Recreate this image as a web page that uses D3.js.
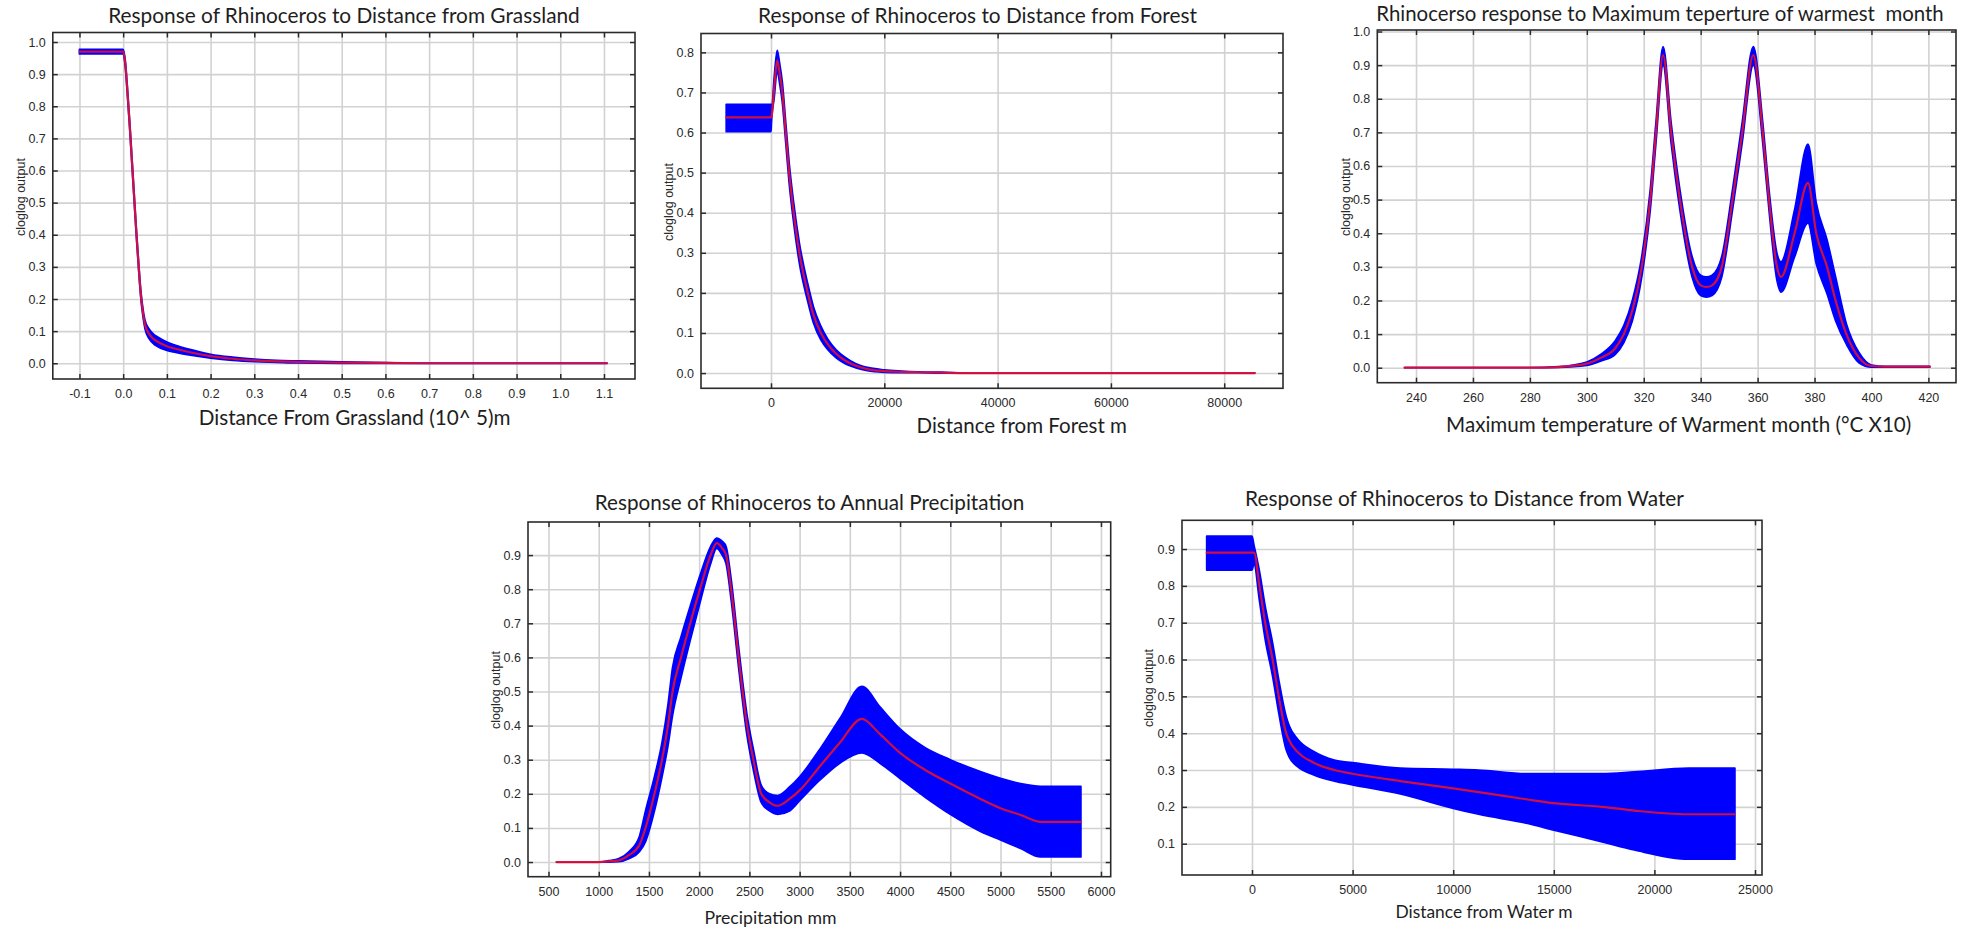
<!DOCTYPE html>
<html>
<head>
<meta charset="utf-8">
<script src="https://cdn.jsdelivr.net/npm/d3@7"></script>
<style>
  html, body { margin: 0; padding: 0; background: #ffffff; }
  svg { display: block; }
</style>
</head>
<body>
<svg id="chart" width="1966" height="929"></svg>
<script>
// ---------------- DATA ----------------
// Panel 1: Distance from Grassland (10^5 m)
const grassX = [-0.1, 0.0, 0.005, 0.01, 0.015, 0.02, 0.025, 0.03, 0.035, 0.04, 0.045, 0.05, 0.06, 0.07, 0.08, 0.1, 0.12, 0.15, 0.2, 0.25, 0.3, 0.35, 0.4, 0.5, 0.6, 0.7, 0.8, 1.0, 1.107];
const grassMean = [0.97, 0.97, 0.93, 0.84, 0.74, 0.63, 0.52, 0.41, 0.31, 0.22, 0.16, 0.12, 0.09, 0.075, 0.066, 0.053, 0.045, 0.035, 0.022, 0.014, 0.009, 0.006, 0.004, 0.002, 0.001, 0.0, 0.0, 0.0, 0.0];
const grassUpper = [0.977, 0.977, 0.94, 0.852, 0.752, 0.642, 0.532, 0.422, 0.322, 0.232, 0.172, 0.133, 0.105, 0.09, 0.081, 0.066, 0.056, 0.044, 0.028, 0.019, 0.013, 0.009, 0.007, 0.004, 0.002, 0.0, 0.0, 0.0, 0.0];
const grassLower = [0.963, 0.963, 0.92, 0.828, 0.728, 0.618, 0.508, 0.398, 0.298, 0.208, 0.148, 0.107, 0.075, 0.06, 0.051, 0.04, 0.034, 0.026, 0.016, 0.009, 0.005, 0.003, 0.001, 0.0, 0.0, 0.0, 0.0, 0.0, 0.0];
const grassXTicks = [-0.1, 0.0, 0.1, 0.2, 0.3, 0.4, 0.5, 0.6, 0.7, 0.8, 0.9, 1.0, 1.1];
const grassYTicks = [0.0, 0.1, 0.2, 0.3, 0.4, 0.5, 0.6, 0.7, 0.8, 0.9, 1.0];

// Panel 2: Distance from Forest (m)
const forestX = [-7900, 0, 80, 550, 1100, 1500, 2000, 2600, 3200, 4000, 5000, 6500, 7500, 8800, 10000, 11500, 13000, 15000, 17000, 20000, 23000, 26000, 30000, 35000, 50000, 70000, 85400];
const forestMean = [0.638, 0.638, 0.639, 0.71, 0.78, 0.75, 0.70, 0.60, 0.50, 0.40, 0.30, 0.20, 0.145, 0.10, 0.072, 0.048, 0.032, 0.018, 0.01, 0.005, 0.003, 0.002, 0.001, 0.0, 0.0, 0.0, 0.0];
const forestUpper = [0.670, 0.670, 0.652, 0.735, 0.805, 0.775, 0.725, 0.625, 0.525, 0.425, 0.325, 0.222, 0.165, 0.117, 0.085, 0.058, 0.04, 0.023, 0.014, 0.008, 0.005, 0.003, 0.002, 0.0, 0.0, 0.0, 0.0];
const forestLower = [0.602, 0.602, 0.626, 0.685, 0.755, 0.725, 0.675, 0.575, 0.475, 0.375, 0.275, 0.178, 0.125, 0.083, 0.059, 0.038, 0.024, 0.013, 0.006, 0.002, 0.001, 0.001, 0.0, 0.0, 0.0, 0.0, 0.0];
const forestXTicks = [0, 20000, 40000, 60000, 80000];
const forestYTicks = [0.0, 0.1, 0.2, 0.3, 0.4, 0.5, 0.6, 0.7, 0.8];

// Panel 3: Maximum temperature of warmest month (°C x10)
const tempX = [236, 260, 280, 290, 300, 305, 310, 313, 316, 319.3, 322.3, 324.3, 326.8, 329.6, 332.7, 337, 340, 342, 344, 347.4, 351.2, 354.6, 358.5, 361.8, 364, 366.8, 368.2, 373, 377.7, 380.6, 384.4, 387.4, 391.2, 395.6, 400, 405, 420.5];
const tempMean = [0, 0, 0, 0.002, 0.012, 0.03, 0.058, 0.1, 0.17, 0.3, 0.5, 0.7, 0.93, 0.7, 0.5, 0.3, 0.245, 0.24, 0.245, 0.3, 0.5, 0.7, 0.93, 0.7, 0.5, 0.3, 0.27, 0.4, 0.55, 0.4, 0.3, 0.2, 0.1, 0.03, 0.005, 0.003, 0.003];
const tempUpper = [0, 0, 0, 0.003, 0.017, 0.04, 0.08, 0.125, 0.2, 0.33, 0.53, 0.73, 0.955, 0.73, 0.53, 0.33, 0.275, 0.27, 0.275, 0.33, 0.53, 0.73, 0.955, 0.73, 0.53, 0.34, 0.315, 0.47, 0.665, 0.49, 0.38, 0.27, 0.13, 0.045, 0.008, 0.004, 0.004];
const tempLower = [0, 0, 0, 0.001, 0.007, 0.02, 0.04, 0.075, 0.14, 0.27, 0.47, 0.67, 0.9, 0.67, 0.47, 0.27, 0.215, 0.21, 0.215, 0.27, 0.47, 0.67, 0.9, 0.67, 0.47, 0.26, 0.225, 0.33, 0.43, 0.31, 0.22, 0.14, 0.07, 0.015, 0.002, 0.002, 0.002];
const tempXTicks = [240, 260, 280, 300, 320, 340, 360, 380, 400, 420];
const tempYTicks = [0.0, 0.1, 0.2, 0.3, 0.4, 0.5, 0.6, 0.7, 0.8, 0.9, 1.0];

// Panel 4: Annual precipitation (mm)
const precX = [580, 800, 1000, 1100, 1200, 1300, 1405, 1466, 1555, 1630, 1689, 1735, 1819, 1911, 2008, 2114, 2175, 2230, 2268, 2318, 2393, 2477, 2540, 2618, 2700, 2780, 2900, 3000, 3200, 3400, 3620, 3800, 4000, 4250, 4500, 4800, 5000, 5200, 5400, 5800];
const precMean = [0, 0, 0, 0.002, 0.005, 0.02, 0.05, 0.1, 0.2, 0.3, 0.4, 0.5, 0.6, 0.7, 0.8, 0.9, 0.935, 0.92, 0.9, 0.8, 0.6, 0.4, 0.3, 0.2, 0.175, 0.165, 0.185, 0.21, 0.28, 0.35, 0.42, 0.375, 0.32, 0.27, 0.23, 0.185, 0.158, 0.138, 0.118, 0.118];
const precUpper = [0, 0, 0, 0.004, 0.01, 0.03, 0.075, 0.15, 0.25, 0.35, 0.46, 0.57, 0.66, 0.75, 0.84, 0.925, 0.95, 0.94, 0.925, 0.83, 0.63, 0.43, 0.33, 0.225, 0.2, 0.195, 0.22, 0.25, 0.33, 0.42, 0.515, 0.455, 0.39, 0.335, 0.30, 0.265, 0.245, 0.23, 0.222, 0.222];
const precLower = [0, 0, 0, 0.0, 0.001, 0.01, 0.03, 0.06, 0.15, 0.25, 0.34, 0.43, 0.54, 0.65, 0.76, 0.875, 0.92, 0.9, 0.875, 0.77, 0.57, 0.37, 0.27, 0.175, 0.15, 0.14, 0.15, 0.18, 0.24, 0.29, 0.32, 0.29, 0.245, 0.19, 0.14, 0.09, 0.065, 0.04, 0.015, 0.015];
const precXTicks = [500, 1000, 1500, 2000, 2500, 3000, 3500, 4000, 4500, 5000, 5500, 6000];
const precYTicks = [0.0, 0.1, 0.2, 0.3, 0.4, 0.5, 0.6, 0.7, 0.8, 0.9];

// Panel 5: Distance from Water (m)
const waterX = [-2250, 0, 100, 370, 655, 1023, 1330, 1700, 1850, 2250, 3070, 4090, 5000, 7370, 10000, 11260, 13700, 15000, 17400, 19000, 21700, 24000];
const waterMean = [0.89, 0.89, 0.89, 0.8, 0.7, 0.6, 0.5, 0.4, 0.38, 0.35, 0.32, 0.30, 0.29, 0.27, 0.25, 0.24, 0.22, 0.21, 0.20, 0.19, 0.18, 0.18];
const waterUpper = [0.935, 0.935, 0.91, 0.84, 0.745, 0.645, 0.545, 0.445, 0.42, 0.385, 0.35, 0.327, 0.32, 0.305, 0.302, 0.3, 0.29, 0.29, 0.29, 0.295, 0.305, 0.305];
const waterLower = [0.843, 0.843, 0.86, 0.76, 0.655, 0.555, 0.455, 0.355, 0.335, 0.31, 0.287, 0.27, 0.26, 0.235, 0.196, 0.18, 0.155, 0.137, 0.105, 0.083, 0.058, 0.058];
const waterXTicks = [0, 5000, 10000, 15000, 20000, 25000];
const waterYTicks = [0.1, 0.2, 0.3, 0.4, 0.5, 0.6, 0.7, 0.8, 0.9];

// ---------------- LAYOUT ----------------
const fmt1 = d => d.toFixed(1);
const fmtInt = d => String(d);

const panels = [
  { title: "Response of Rhinoceros to Distance from Grassland", xLabel: "Distance From Grassland (10^ 5)m",
    xs: grassX, mean: grassMean, upper: grassUpper, lower: grassLower, xTicks: grassXTicks, yTicks: grassYTicks,
    xFmt: fmt1, box: [52.8, 635, 32.5, 379], xDom: [-0.161, 1.171], yDom: [-0.049, 1.0296],
    titlePos: [344, 23, 472], xLabelPos: [354.6, 425, 312], yLabelPos: [21, 197] },
  { title: "Response of Rhinoceros to Distance from Forest", xLabel: "Distance from Forest m",
    xs: forestX, mean: forestMean, upper: forestUpper, lower: forestLower, xTicks: forestXTicks, yTicks: forestYTicks,
    xFmt: fmtInt, box: [701, 1283, 33.5, 388.3], xDom: [-12357, 90380], yDom: [-0.038, 0.847],
    titlePos: [977.5, 22.7, 439], xLabelPos: [1021.7, 433, 210.5], yLabelPos: [669, 202] },
  { title: "Rhinocerso response to Maximum teperture of warmest  month", xLabel: "Maximum temperature of Warment month (\u00B0C X10)",
    xs: tempX, mean: tempMean, upper: tempUpper, lower: tempLower, xTicks: tempXTicks, yTicks: tempYTicks,
    xFmt: fmtInt, box: [1377.3, 1956, 30, 382.7], xDom: [226.4, 429.7], yDom: [-0.0446, 1.0045],
    titlePos: [1660, 20.7, 568], xLabelPos: [1678.7, 431.7, 465.6], yLabelPos: [1346, 197] },
  { title: "Response of Rhinoceros to Annual Precipitation", xLabel: "Precipitation mm",
    xs: precX, mean: precMean, upper: precUpper, lower: precLower, xTicks: precXTicks, yTicks: precYTicks,
    xFmt: fmtInt, box: [528, 1110.7, 522, 876.7], xDom: [296, 6097], yDom: [-0.043, 0.997],
    titlePos: [809.6, 510, 430], xLabelPos: [770.5, 924, 132], yLabelPos: [496, 690] },
  { title: "Response of Rhinoceros to Distance from Water", xLabel: "Distance from Water m",
    xs: waterX, mean: waterMean, upper: waterUpper, lower: waterLower, xTicks: waterXTicks, yTicks: waterYTicks,
    xFmt: fmtInt, box: [1182, 1762, 520.3, 875], xDom: [-3479, 25348], yDom: [0.015, 0.978],
    titlePos: [1464.5, 506, 439], xLabelPos: [1484, 918.3, 177], yLabelPos: [1149, 688] }
];

const svg = d3.select("#chart");
svg.append("rect").attr("width", 1966).attr("height", 929).attr("fill", "#ffffff");
const defs = svg.append("defs");

const TITLE_FONT = "Lato, 'Open Sans', 'DejaVu Sans', sans-serif";
const TICK_FONT = "'Liberation Sans', Arial, sans-serif";

function fitText(sel, targetWidth, baseSize) {
  sel.attr("font-size", baseSize);
  const w = sel.node().getComputedTextLength();
  if (w > 0) sel.attr("font-size", baseSize * targetWidth / w);
}

panels.forEach((p, pi) => {
  const [L, R, T, B] = p.box;
  const x = d3.scaleLinear().domain(p.xDom).range([L, R]);
  const y = d3.scaleLinear().domain(p.yDom).range([B, T]);
  const g = svg.append("g");

  defs.append("clipPath").attr("id", "clip" + pi)
    .append("rect").attr("x", L).attr("y", T).attr("width", R - L).attr("height", B - T);

  // grid lines
  g.append("g").attr("transform", `translate(0,${B})`)
    .call(d3.axisBottom(x).tickValues(p.xTicks).tickSize(-(B - T)).tickFormat(""))
    .call(s => { s.select(".domain").remove(); s.selectAll("line").attr("stroke", "#d2d2d2").attr("stroke-width", 1.6); });
  g.append("g").attr("transform", `translate(${L},0)`)
    .call(d3.axisLeft(y).tickValues(p.yTicks).tickSize(-(R - L)).tickFormat(""))
    .call(s => { s.select(".domain").remove(); s.selectAll("line").attr("stroke", "#d2d2d2").attr("stroke-width", 1.6); });

  const idx = d3.range(p.xs.length);
  const area = d3.area()
    .x(i => x(p.xs[i])).y0(i => y(p.lower[i])).y1(i => y(p.upper[i]))
    .curve(d3.curveMonotoneX);
  const line = d3.line()
    .x(i => x(p.xs[i])).y(i => y(p.mean[i]))
    .curve(d3.curveMonotoneX);

  const plot = g.append("g").attr("clip-path", `url(#clip${pi})`);
  plot.append("path").datum(idx).attr("d", area)
    .attr("fill", "#0000ff").attr("stroke", "#0000ff").attr("stroke-width", 1.8).attr("stroke-linejoin", "round");
  plot.append("path").datum(idx).attr("d", line)
    .attr("fill", "none").attr("stroke", "#e6102e").attr("stroke-opacity", 0.9)
    .attr("stroke-width", 2.2).attr("stroke-linejoin", "round").attr("stroke-linecap", "round");

  // frame
  g.append("rect").attr("x", L).attr("y", T).attr("width", R - L).attr("height", B - T)
    .attr("fill", "none").attr("stroke", "#2b2b2b").attr("stroke-width", 1.6);

  const styleAxis = s => {
    s.select(".domain").remove();
    s.selectAll(".tick line").attr("stroke", "#2b2b2b").attr("stroke-width", 1.5);
    s.selectAll(".tick text").attr("fill", "#2a2a2a").attr("font-family", TICK_FONT).attr("font-size", 12.5);
  };

  g.append("g").attr("transform", `translate(0,${B})`)
    .call(d3.axisBottom(x).tickValues(p.xTicks).tickSize(-5).tickPadding(10).tickFormat(p.xFmt))
    .call(styleAxis);
  g.append("g").attr("transform", `translate(0,${T})`)
    .call(d3.axisTop(x).tickValues(p.xTicks).tickSize(-5).tickFormat(""))
    .call(styleAxis);
  g.append("g").attr("transform", `translate(${L},0)`)
    .call(d3.axisLeft(y).tickValues(p.yTicks).tickSize(-5).tickPadding(7).tickFormat(fmt1))
    .call(styleAxis);
  g.append("g").attr("transform", `translate(${R},0)`)
    .call(d3.axisRight(y).tickValues(p.yTicks).tickSize(-5).tickFormat(""))
    .call(styleAxis);

  // title
  const t = g.append("text").text(p.title)
    .attr("x", p.titlePos[0]).attr("y", p.titlePos[1])
    .attr("text-anchor", "middle").attr("font-family", TITLE_FONT)
    .attr("fill", "#1e1e1e").style("white-space", "pre");
  fitText(t, p.titlePos[2], 20);

  // x label
  const xl = g.append("text").text(p.xLabel)
    .attr("x", p.xLabelPos[0]).attr("y", p.xLabelPos[1])
    .attr("text-anchor", "middle").attr("font-family", TITLE_FONT)
    .attr("fill", "#1e1e1e");
  fitText(xl, p.xLabelPos[2], 18);

  // y label
  g.append("text").text("cloglog output")
    .attr("transform", `translate(${p.yLabelPos[0]},${p.yLabelPos[1]}) rotate(-90)`)
    .attr("text-anchor", "middle").attr("dy", "0.35em")
    .attr("font-family", TICK_FONT).attr("font-size", 12.5).attr("fill", "#2a2a2a");
});
</script>
</body>
</html>
